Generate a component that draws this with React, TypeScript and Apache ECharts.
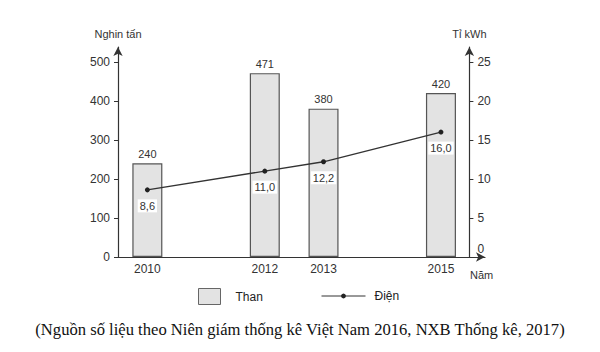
import React, { useEffect, useRef } from "react";
import * as echarts from "echarts";

const years = [2010, 2012, 2013, 2015];
const than = [240, 471, 380, 420];
const dien = [8.6, 11.0, 12.2, 16.0];
const leftTicks = [0, 100, 200, 300, 400, 500];
const rightTicks = [0, 5, 10, 15, 20, 25];

const FONT = "Liberation Sans, Arial, sans-serif";

export default function App() {
  const ref = useRef<HTMLDivElement>(null);
  useEffect(() => {
    document.body.style.margin = "0";
    if (!ref.current) return;
    const chart = echarts.init(ref.current, null, { renderer: "svg" });
    const axisLineStyle = { color: "#333", width: 1.2 };
    chart.setOption({
      animation: false,
      backgroundColor: "#fff",
      textStyle: { fontFamily: FONT, color: "#333" },
      grid: { left: 118, right: 115, top: 47, bottom: 95 },
      title: {
        text: "(Nguồn số liệu theo Niên giám thống kê Việt Nam 2016, NXB Thống kê, 2017)",
        left: "center",
        top: 316,
        textStyle: { fontFamily: "Liberation Serif, Times New Roman, serif", fontSize: 16.6, fontWeight: "normal", color: "#111" },
      },
      graphic: [
        {
          type: "text",
          left: 470,
          top: 269,
          style: { text: "Năm", fontFamily: FONT, fontSize: 11, fill: "#333" },
        },
      ],
      legend: [
        {
          data: [{ name: "Than", icon: "rect" }],
          left: 193,
          top: 283,
          itemWidth: 22,
          itemHeight: 16,
          itemStyle: { color: "#e3e3e3", borderColor: "#666", borderWidth: 1 },
          textStyle: { fontFamily: FONT, fontSize: 12, color: "#222", padding: [0, 0, 0, 10] },
        },
        {
          data: ["Điện"],
          left: 316,
          top: 285,
          itemWidth: 44,
          itemHeight: 6,
          lineStyle: { width: 1 },
          textStyle: { fontFamily: FONT, fontSize: 12, color: "#222", padding: [0, 0, 0, 4] },
        },
      ],
      xAxis: {
        type: "value",
        min: 2009.5,
        max: 2015.75,
        splitLine: { show: false },
        axisLine: { lineStyle: axisLineStyle, symbol: ["none", "arrow"], symbolSize: [7, 9] },
        axisTick: { show: false },
        axisLabel: {
          customValues: years,
          formatter: (v: number) => String(v),
          fontSize: 12,
          color: "#333",
          margin: 6,
        },
      },
      yAxis: [
        {
          type: "value",
          min: 0,
          max: 538,
          name: "Nghin tấn",
          nameLocation: "end",
          nameGap: 8,
          nameTextStyle: { fontFamily: FONT, fontSize: 11, color: "#333", align: "center" },
          splitLine: { show: false },
          axisLine: { show: true, lineStyle: axisLineStyle, symbol: ["none", "arrow"], symbolSize: [7, 9] },
          axisTick: { show: true, customValues: leftTicks, length: 4, lineStyle: { color: "#333" } },
          axisLabel: { customValues: leftTicks, fontSize: 12, color: "#333", margin: 8 },
        },
        {
          type: "value",
          min: 0,
          max: 538 / 20,
          position: "right",
          offset: -15.6,
          name: "Tỉ kWh",
          nameLocation: "end",
          nameGap: 8,
          nameTextStyle: { fontFamily: FONT, fontSize: 11, color: "#333", align: "center" },
          splitLine: { show: false },
          axisLine: { show: true, lineStyle: axisLineStyle, symbol: ["none", "arrow"], symbolSize: [7, 9] },
          axisTick: { show: true, customValues: rightTicks, length: 4, lineStyle: { color: "#333" } },
          axisLabel: {
            customValues: rightTicks,
            fontSize: 12,
            color: "#333",
            margin: 8,
            formatter: (v: number) => (v === 0 ? "{z|0}" : String(v)),
            rich: { z: { fontSize: 12, color: "#333", padding: [0, 0, 16, 0] } },
          },
        },
      ],
      series: [
        {
          name: "Than",
          type: "bar",
          yAxisIndex: 0,
          barWidth: 30,
          data: years.map((y, i) => [y, than[i]]),
          itemStyle: { color: "#e3e3e3", borderColor: "#555", borderWidth: 1.2 },
          label: { show: true, position: "top", fontSize: 11, color: "#333", distance: 4, formatter: (p: any) => String(p.value[1]) },
        },
        {
          name: "Điện",
          type: "line",
          yAxisIndex: 1,
          data: years.map((y, i) => [y, dien[i]]),
          symbol: "circle",
          symbolSize: 5,
          lineStyle: { color: "#333", width: 1.3 },
          itemStyle: { color: "#222" },
          label: {
            show: true,
            position: "bottom",
            distance: 7,
            fontSize: 11,
            color: "#333",
            backgroundColor: "#fff",
            padding: [1, 2],
            formatter: (p: any) => p.value[1].toFixed(1).replace(".", ","),
          },
        },
      ],
    });
    return () => chart.dispose();
  }, []);
  return <div ref={ref} style={{ width: 600, height: 352 }} />;
}
